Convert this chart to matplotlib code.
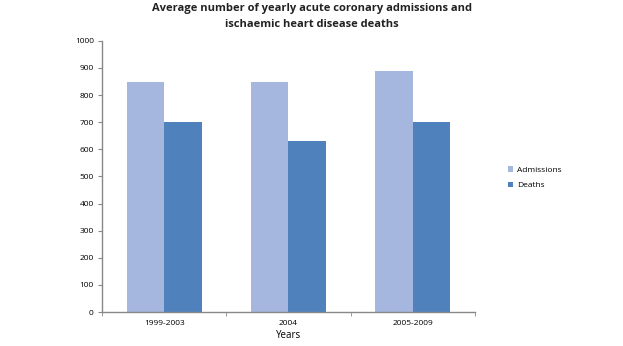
import matplotlib.pyplot as plt
import numpy as np

# -----------------------------
# DATA
# -----------------------------
years = ["1999-2003", "2004", "2005-2009"]
admissions = [850, 850, 890]
deaths = [700, 630, 700]

plt.rcParams['font.family'] = ['Open Sans', 'DejaVu Sans']

fig = plt.figure(figsize=(6.23, 3.46), dpi=100)
ax = fig.add_axes([0.164, 0.098, 0.598, 0.784])

x = np.arange(len(years))
w = 0.3
ax.bar(x - w / 2, admissions, w, color="#A5B7DE", label="Admissions")
ax.bar(x + w / 2, deaths, w, color="#4F81BD", label="Deaths")

ax.set_xlim(-0.5, len(years) - 0.5)
ax.set_ylim(0, 1000)
ax.set_yticks(range(0, 1001, 100))
ax.set_xticks(x)
ax.set_xticklabels(years)
ax.set_xticks(np.arange(-0.5, len(years)), minor=True)
ax.tick_params(axis="x", which="major", length=0, labelsize=6, pad=6)
ax.tick_params(axis="x", which="minor", length=3, color="#888888", direction="out")
ax.tick_params(axis="y", labelsize=6, length=3, color="#888888", pad=3)

for s in ["top", "right"]:
    ax.spines[s].set_visible(False)
for s in ["left", "bottom"]:
    ax.spines[s].set_color("#888888")
    ax.spines[s].set_linewidth(1.0)

ax.set_xlabel("Years", fontsize=7, labelpad=2)

fig.suptitle("Average number of yearly acute coronary admissions and\nischaemic heart disease deaths",
             fontsize=8, fontweight="bold", y=0.99, color="#222222", linespacing=1.55)

ax.legend(loc="center left", bbox_to_anchor=(1.07, 0.495), frameon=False, fontsize=6,
          handlelength=0.6, handleheight=0.6, handletextpad=0.4, labelspacing=0.9)

fig.savefig("out.png", dpi=100)
